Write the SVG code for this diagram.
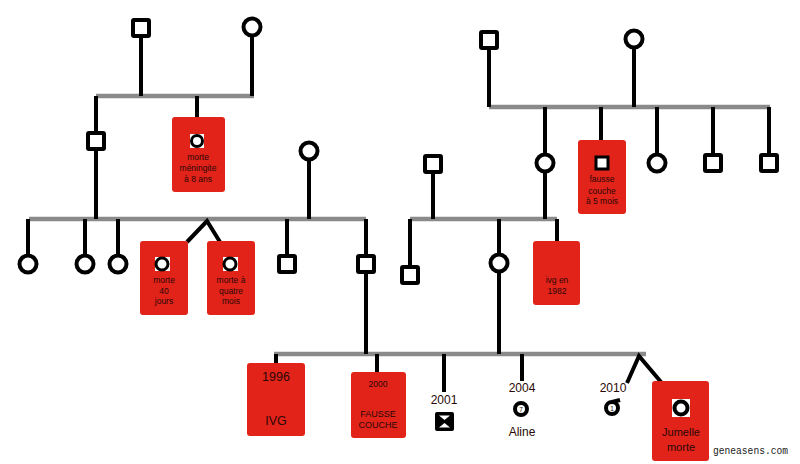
<svg xmlns="http://www.w3.org/2000/svg" width="800" height="464" viewBox="0 0 800 464">
<style>
.ln{stroke:#000;stroke-width:4;fill:none}
.gr{stroke:#8a8a8a;stroke-width:4.5;fill:none}
.sym{fill:#fff;stroke:#000;stroke-width:4}
.ss{fill:#fff;stroke:#000;stroke-width:3}
.box{fill:#e2231a}
.t{font-family:"Liberation Sans",Arial,sans-serif;text-anchor:middle;fill:#2a0806}
.s8{font-size:8.5px}
.b{fill:#000}
</style>
<rect width="800" height="464" fill="#fff"/>
<g id="connectors">
<line class="gr" x1="96" y1="96" x2="254" y2="96"/>
<line class="gr" x1="489" y1="107" x2="770" y2="107"/>
<line class="gr" x1="29" y1="219" x2="366" y2="219"/>
<line class="gr" x1="410" y1="219" x2="557" y2="219"/>
<line class="gr" x1="274" y1="354" x2="646" y2="354"/>
<line class="ln" x1="141" y1="36" x2="141" y2="96"/>
<line class="ln" x1="252" y1="36" x2="252" y2="96"/>
<line class="ln" x1="96" y1="96" x2="96" y2="219"/>
<line class="ln" x1="197" y1="96" x2="197" y2="117"/>
<line class="ln" x1="309" y1="160" x2="309" y2="219"/>
<line class="ln" x1="489" y1="48" x2="489" y2="107"/>
<line class="ln" x1="634" y1="48" x2="634" y2="107"/>
<line class="ln" x1="545" y1="107" x2="545" y2="219"/>
<line class="ln" x1="601" y1="107" x2="601" y2="140"/>
<line class="ln" x1="657" y1="107" x2="657" y2="155"/>
<line class="ln" x1="713" y1="107" x2="713" y2="155"/>
<line class="ln" x1="769" y1="107" x2="769" y2="155"/>
<line class="ln" x1="433" y1="172" x2="433" y2="219"/>
<line class="ln" x1="28" y1="219" x2="28" y2="256"/>
<line class="ln" x1="85" y1="219" x2="85" y2="256"/>
<line class="ln" x1="118" y1="219" x2="118" y2="256"/>
<polyline class="ln" points="187,242 207,221 220,242"/>
<line class="ln" x1="287" y1="219" x2="287" y2="256"/>
<line class="ln" x1="366" y1="219" x2="366" y2="354"/>
<line class="ln" x1="410" y1="219" x2="410" y2="267"/>
<line class="ln" x1="499" y1="219" x2="499" y2="354"/>
<line class="ln" x1="557" y1="219" x2="557" y2="241"/>
<line class="ln" x1="276" y1="354" x2="276" y2="363"/>
<line class="ln" x1="377" y1="354" x2="377" y2="372"/>
<line class="ln" x1="444" y1="354" x2="444" y2="392"/>
<line class="ln" x1="522" y1="354" x2="522" y2="381"/>
<polyline class="ln" points="627,383 639,356 661,382"/>
</g>
<g id="n-gp1"><rect class="sym" x="133" y="20" width="16" height="16" rx="1"/></g>
<g id="n-gm1"><circle class="sym" cx="252" cy="27" r="8.5"/></g>
<g id="n-gp2"><rect class="sym" x="481" y="32" width="16" height="16" rx="1"/></g>
<g id="n-gm2"><circle class="sym" cx="634" cy="39" r="8.5"/></g>
<g id="n-father"><rect class="sym" x="88" y="133" width="16" height="16" rx="1"/></g>
<g id="n-meningite">
<rect class="box" x="172" y="117" width="53" height="75" rx="3"/>
<rect x="190" y="134" width="14" height="14" fill="#fff"/>
<circle class="ss" cx="197" cy="141" r="5.5"/>
<text class="t s8" x="198" y="160">morte</text>
<text class="t s8" x="198" y="171">méningite</text>
<text class="t s8" x="198" y="182">à 8 ans</text>
</g>
<g id="n-gm-left"><circle class="sym" cx="309" cy="151" r="8.5"/></g>
<g id="n-mother"><circle class="sym" cx="545" cy="163" r="8.5"/></g>
<g id="n-fausse-couche">
<rect class="box" x="578" y="140" width="48" height="74" rx="3"/>
<rect x="595" y="156" width="14" height="14" fill="#fff"/>
<rect class="ss" x="596" y="157" width="12" height="12"/>
<text class="t s8" x="602" y="182">fausse</text>
<text class="t s8" x="602" y="194">couche</text>
<text class="t s8" x="602" y="204">à 5 mois</text>
</g>
<g id="n-aunt"><circle class="sym" cx="657" cy="163" r="8.5"/></g>
<g id="n-uncle1"><rect class="sym" x="705" y="155" width="16" height="16" rx="1"/></g>
<g id="n-uncle2"><rect class="sym" x="761" y="155" width="16" height="16" rx="1"/></g>
<g id="n-gp-right"><rect class="sym" x="425" y="156" width="16" height="16" rx="1"/></g>
<g id="n-s1"><circle class="sym" cx="28" cy="264" r="8.5"/></g>
<g id="n-s2"><circle class="sym" cx="85" cy="264" r="8.5"/></g>
<g id="n-s3"><circle class="sym" cx="118" cy="264" r="8.5"/></g>
<g id="n-40jours">
<rect class="box" x="140" y="241" width="48" height="74" rx="3"/>
<rect x="155" y="257" width="15" height="14" fill="#fff"/>
<circle class="ss" cx="162" cy="264" r="6"/>
<text class="t s8" x="164" y="283">morte</text>
<text class="t s8" x="164" y="294">40</text>
<text class="t s8" x="164" y="304">jours</text>
</g>
<g id="n-quatre-mois">
<rect class="box" x="207" y="241" width="48" height="74" rx="3"/>
<rect x="223" y="257" width="15" height="14" fill="#fff"/>
<circle class="ss" cx="230" cy="264" r="6"/>
<text class="t s8" x="231" y="283">morte à</text>
<text class="t s8" x="231" y="294">quatre</text>
<text class="t s8" x="231" y="304">mois</text>
</g>
<g id="n-b1"><rect class="sym" x="279" y="256" width="16" height="16" rx="1"/></g>
<g id="n-dad"><rect class="sym" x="358" y="256" width="16" height="16" rx="1"/></g>
<g id="n-u3"><rect class="sym" x="402" y="267" width="16" height="16" rx="1"/></g>
<g id="n-mom"><circle class="sym" cx="499" cy="263" r="8.5"/></g>
<g id="n-ivg1982">
<rect class="box" x="533" y="241" width="47" height="64" rx="3"/>
<text class="t s8" x="557" y="283">ivg en</text>
<text class="t s8" x="557" y="294">1982</text>
</g>
<g id="n-1996">
<rect class="box" x="247" y="363" width="58" height="73" rx="3"/>
<text class="t" x="276" y="381" font-size="12.5">1996</text>
<text class="t" x="276" y="425" font-size="12.5">IVG</text>
</g>
<g id="n-2000">
<rect class="box" x="351" y="372" width="55" height="66" rx="3"/>
<text class="t" x="378" y="387" font-size="8.5">2000</text>
<text class="t" x="378" y="417" font-size="9">FAUSSE</text>
<text class="t" x="378" y="428" font-size="9">COUCHE</text>
</g>
<g id="n-2001">
<text class="t" x="444" y="404" font-size="12" fill="#000">2001</text>
<rect class="b" x="435" y="412" width="19" height="19" rx="2"/>
<polygon points="439,415.5 450,415.5 444.5,420" fill="#fff"/>
<polygon points="439,427.5 450,427.5 444.5,423" fill="#fff"/>
</g>
<g id="n-2004">
<text class="t" x="522" y="392" font-size="12" fill="#000">2004</text>
<circle class="sym" cx="521" cy="409" r="6"/>
<text class="t" x="521" y="411.5" font-size="6.5" fill="#000">7</text>
<text class="t" x="522" y="436" font-size="12" fill="#000">Aline</text>
</g>
<g id="n-2010">
<text class="t" x="613" y="392" font-size="12" fill="#000">2010</text>
<circle class="sym" cx="612" cy="408" r="6"/>
<line class="ln" x1="612" y1="402" x2="620" y2="400"/>
<text class="t" x="612" y="410.5" font-size="6.5" fill="#000">1</text>
</g>
<g id="n-jumelle">
<rect class="box" x="652" y="381" width="57" height="80" rx="3"/>
<rect x="672" y="399" width="18" height="18" fill="#fff"/>
<circle class="sym" cx="681" cy="408" r="6.5"/>
<text class="t" x="681" y="436" font-size="11">Jumelle</text>
<text class="t" x="681" y="451" font-size="11">morte</text>
</g>
<text x="713" y="454" font-family="'Liberation Mono','DejaVu Sans Mono',monospace" font-size="10" fill="#222" textLength="75" lengthAdjust="spacingAndGlyphs">geneasens.com</text>
</svg>
